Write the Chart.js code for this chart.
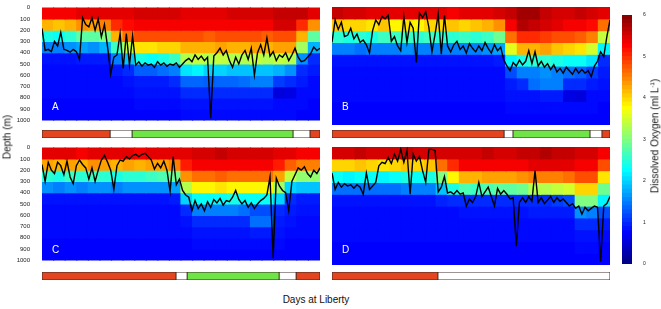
<!DOCTYPE html>
<html>
<head>
<meta charset="utf-8">
<script src="https://cdn.jsdelivr.net/npm/chart.js@4.4.1/dist/chart.umd.min.js"></script>
<style>
body{margin:0;background:#fff;width:661px;height:309px;position:relative;overflow:hidden;font-family:"Liberation Sans",Arial,sans-serif}
canvas{position:absolute}
.tag{position:absolute;color:#fff;font-size:10px}
.ttl{position:absolute;font-size:10px;color:#111;white-space:nowrap;transform:translate(-50%,-50%)}
.rot{transform:translate(-50%,-50%) rotate(-90deg)}
</style>
</head>
<body>
<canvas id="panelA" width="322" height="128" style="left:0;top:0"></canvas>
<canvas id="panelB" width="280" height="128" style="left:332px;top:0"></canvas>
<canvas id="panelC" width="322" height="128" style="left:0;top:140px"></canvas>
<canvas id="panelD" width="280" height="128" style="left:332px;top:140px"></canvas>
<canvas id="stripA" width="280" height="9" style="left:41px;top:129px"></canvas>
<canvas id="stripB" width="280" height="9" style="left:331px;top:129px"></canvas>
<canvas id="stripC" width="280" height="9" style="left:41px;top:271px"></canvas>
<canvas id="stripD" width="280" height="9" style="left:331px;top:271px"></canvas>
<canvas id="cbar" width="30" height="265" style="left:622px;top:5px"></canvas>
<div class="tag" style="left:52px;top:101px">A</div>
<div class="tag" style="left:342px;top:101px">B</div>
<div class="tag" style="left:52px;top:244px">C</div>
<div class="tag" style="left:342px;top:244px">D</div>
<div class="ttl rot" style="left:7px;top:137px">Depth (m)</div>
<div class="ttl rot" style="left:655px;top:136px">Dissolved Oxygen (ml L<sup style="font-size:6px">-1</sup>)</div>
<div class="ttl" style="left:316px;top:299px">Days at Liberty</div>
<script>
// depth bins (m) for the oxygen grid
const depthBins = [0, 100, 200, 300, 400, 500, 600, 700, 800, 900, 1000];

// oxygen (ml/L) per time column, each column top -> bottom
const oxyA = [
  [5.3,4.2,2.4,1.5,0.85,0.8,0.8,0.8,0.75,0.75],
  [5.3,4.1,2.3,1.5,0.85,0.8,0.8,0.8,0.75,0.75],
  [5.3,4.2,2.5,1.6,0.85,0.8,0.8,0.8,0.75,0.75],
  [5.4,4.4,2.8,1.7,0.9,0.8,0.8,0.8,0.75,0.75],
  [5.4,4.3,2.8,1.6,0.9,0.8,0.8,0.8,0.75,0.75],
  [5.4,4.5,3.0,1.8,0.9,0.8,0.8,0.8,0.75,0.75],
  [5.4,5.0,4.2,2.6,1.5,0.9,0.8,0.8,0.75,0.75],
  [5.4,5.2,4.6,3.4,1.9,1.0,0.85,0.8,0.75,0.75],
  [5.5,5.3,4.8,3.9,2.4,1.3,0.9,0.85,0.8,0.75],
  [5.5,5.3,4.8,3.9,2.3,1.3,0.9,0.85,0.8,0.75],
  [5.5,5.3,4.8,4.0,2.4,1.4,0.9,0.85,0.8,0.75],
  [5.5,5.3,4.8,4.0,2.6,1.5,1.0,0.85,0.8,0.75],
  [5.4,5.3,4.8,4.2,3.3,2.1,1.35,1.0,0.85,0.8],
  [5.4,5.3,4.8,4.2,3.4,2.2,1.35,1.0,0.85,0.8],
  [5.4,5.3,4.7,4.2,3.3,2.0,1.3,1.0,0.85,0.8],
  [5.4,5.3,4.8,4.3,3.4,2.0,1.35,1.0,0.85,0.8],
  [5.5,5.3,4.8,4.2,3.3,1.9,1.35,1.0,0.85,0.8],
  [5.5,5.3,4.8,4.2,3.3,1.9,1.4,1.0,0.85,0.8],
  [5.5,5.3,4.8,4.3,3.4,1.9,1.5,1.0,0.85,0.8],
  [5.5,5.3,4.7,4.2,3.3,1.9,1.5,1.0,0.85,0.8],
  [5.6,5.5,4.8,4.3,3.4,1.8,1.1,0.55,0.8,0.8],
  [5.6,5.5,4.8,4.3,3.3,1.6,1.0,0.6,0.8,0.8],
  [5.6,5.0,4.2,3.2,1.6,1.0,0.9,0.8,0.8,0.75],
  [5.4,4.4,2.8,1.8,1.0,0.9,0.8,0.8,0.75,0.75]
];
const oxyB = [
  [5.6,4.1,2.5,1.5,0.85,0.8,0.8,0.8,0.75,0.75],
  [5.5,4.0,2.4,1.5,0.85,0.8,0.8,0.8,0.75,0.75],
  [5.5,4.0,2.5,1.4,0.85,0.8,0.8,0.8,0.75,0.75],
  [5.4,3.9,2.4,1.5,0.85,0.8,0.8,0.8,0.75,0.75],
  [5.4,4.1,2.6,1.5,0.85,0.8,0.8,0.8,0.75,0.75],
  [5.4,3.8,2.6,1.5,0.85,0.8,0.8,0.8,0.75,0.75],
  [5.4,3.9,2.6,1.6,0.85,0.8,0.8,0.8,0.75,0.75],
  [5.4,3.8,2.5,1.5,0.85,0.8,0.8,0.8,0.75,0.75],
  [5.4,4.0,2.6,1.5,0.85,0.8,0.8,0.8,0.75,0.75],
  [5.4,4.0,2.5,1.5,0.85,0.8,0.8,0.8,0.75,0.75],
  [5.3,4.1,2.5,1.5,0.85,0.8,0.8,0.8,0.75,0.75],
  [5.4,4.0,2.6,1.5,0.85,0.8,0.8,0.8,0.75,0.75],
  [5.4,4.1,2.5,1.5,0.85,0.8,0.8,0.8,0.75,0.75],
  [5.4,4.2,2.6,1.6,0.85,0.8,0.8,0.8,0.75,0.75],
  [5.5,4.4,2.9,1.7,0.9,0.8,0.8,0.8,0.75,0.75],
  [5.6,5.3,4.6,3.6,2.2,1.2,0.9,0.85,0.8,0.75],
  [5.8,5.7,5.0,4.2,2.4,1.5,1.0,0.85,0.8,0.75],
  [5.8,5.6,5.0,4.2,2.5,1.5,1.4,0.85,0.8,0.75],
  [5.6,5.5,4.9,4.3,2.5,1.6,1.5,0.9,0.8,0.75],
  [5.5,5.4,4.8,4.1,2.4,1.5,1.5,0.9,0.8,0.75],
  [5.5,5.3,4.8,4.0,2.3,1.4,1.0,0.6,0.8,0.75],
  [5.6,5.3,4.7,3.9,2.3,1.3,1.0,0.55,0.8,0.75],
  [5.5,5.2,4.5,3.5,2.1,1.1,0.9,0.8,0.8,0.75],
  [5.4,4.6,3.4,2.2,1.0,0.9,0.85,0.8,0.75,0.75]
];
const oxyC = [
  [5.4,4.3,2.5,1.6,0.85,0.8,0.8,0.8,0.75,0.75],
  [5.4,4.2,2.4,1.5,0.85,0.8,0.8,0.8,0.75,0.75],
  [5.4,4.3,2.6,1.6,0.85,0.8,0.8,0.8,0.75,0.75],
  [5.3,4.2,2.5,1.5,0.85,0.8,0.8,0.8,0.75,0.75],
  [5.4,4.4,2.6,1.6,0.85,0.8,0.8,0.8,0.75,0.75],
  [5.4,4.3,2.5,1.6,0.85,0.8,0.8,0.8,0.75,0.75],
  [5.4,4.2,2.4,1.5,0.85,0.8,0.8,0.8,0.75,0.75],
  [5.4,4.3,2.5,1.6,0.85,0.8,0.8,0.8,0.75,0.75],
  [5.3,4.2,2.5,1.6,0.85,0.8,0.8,0.8,0.75,0.75],
  [5.4,4.3,2.6,1.6,0.85,0.8,0.8,0.8,0.75,0.75],
  [5.4,4.3,2.7,1.6,0.85,0.8,0.8,0.8,0.75,0.75],
  [5.4,4.5,2.9,1.7,0.9,0.8,0.8,0.8,0.75,0.75],
  [5.4,5.1,4.4,3.3,2.0,1.0,0.85,0.8,0.75,0.75],
  [5.5,5.3,4.6,3.8,2.3,1.5,1.0,0.85,0.8,0.75],
  [5.5,5.3,4.6,3.8,2.3,1.5,1.0,0.85,0.8,0.75],
  [5.6,5.3,4.7,3.9,2.3,1.5,1.0,0.85,0.8,0.75],
  [5.5,5.3,4.6,3.8,2.4,1.5,1.0,0.85,0.8,0.75],
  [5.5,5.3,4.6,3.8,2.3,1.4,1.0,0.85,0.8,0.75],
  [5.5,5.3,4.6,3.8,2.3,1.2,1.4,0.9,0.8,0.75],
  [5.5,5.3,4.6,3.8,2.3,1.2,1.4,0.9,0.8,0.75],
  [5.4,5.1,4.3,3.2,2.0,1.0,0.9,0.85,0.8,0.75],
  [5.4,4.7,3.4,2.0,1.0,0.9,0.85,0.8,0.75,0.75],
  [5.3,4.5,3.1,1.9,0.9,0.85,0.8,0.8,0.75,0.75],
  [5.3,4.5,3.1,1.9,0.9,0.85,0.8,0.8,0.75,0.75]
];
const oxyD = [
  [5.5,4.0,2.3,1.4,0.85,0.8,0.8,0.8,0.75,0.75],
  [5.5,4.0,2.2,1.4,0.85,0.8,0.8,0.8,0.75,0.75],
  [5.6,4.1,2.3,1.4,0.85,0.8,0.8,0.8,0.75,0.75],
  [5.5,4.0,2.3,1.4,0.85,0.8,0.8,0.8,0.75,0.75],
  [5.5,3.9,2.2,1.4,0.85,0.8,0.8,0.8,0.75,0.75],
  [5.5,4.0,2.3,1.4,0.85,0.8,0.8,0.8,0.75,0.75],
  [5.6,4.1,2.4,1.5,0.85,0.8,0.8,0.8,0.75,0.75],
  [5.5,4.0,2.3,1.5,0.85,0.8,0.8,0.8,0.75,0.75],
  [5.5,4.1,2.4,1.5,0.85,0.8,0.8,0.8,0.75,0.75],
  [5.5,4.6,3.0,1.9,0.95,0.8,0.8,0.8,0.75,0.75],
  [5.5,5.0,3.8,2.4,1.0,0.8,0.8,0.8,0.75,0.75],
  [5.5,5.3,4.2,2.7,1.0,0.85,0.8,0.8,0.75,0.75],
  [5.5,5.3,4.2,2.6,1.0,0.85,0.8,0.8,0.75,0.75],
  [5.6,5.3,4.3,2.7,1.0,0.85,0.8,0.8,0.75,0.75],
  [5.5,5.3,4.3,2.8,1.0,0.85,0.8,0.8,0.75,0.75],
  [5.5,5.3,4.3,2.8,1.0,0.85,0.8,0.8,0.75,0.75],
  [5.6,5.3,4.4,2.9,1.0,0.85,0.8,0.8,0.75,0.75],
  [5.6,5.4,4.5,3.3,1.0,0.9,0.8,0.8,0.75,0.75],
  [5.7,5.4,4.5,3.3,1.0,0.9,0.8,0.8,0.75,0.75],
  [5.6,5.4,4.5,3.4,1.1,0.9,0.8,0.8,0.75,0.75],
  [5.6,5.4,4.6,3.5,1.2,0.9,0.8,0.8,0.75,0.75],
  [5.5,5.3,4.8,4.0,3.0,1.6,1.0,0.85,0.8,0.75],
  [5.5,5.3,4.8,4.0,3.0,1.5,1.0,0.85,0.8,0.75],
  [5.3,4.8,3.9,2.9,2.2,1.2,0.9,0.8,0.75,0.75]
];

// fish depth (m) over the track
const depthA = [185,380,370,390,300,340,220,370,380,395,370,390,460,90,150,170,90,200,100,260,
  150,350,590,440,420,230,540,230,510,250,510,480,520,490,510,500,530,480,510,490,
  520,500,510,490,530,500,470,450,480,420,460,430,470,440,980,430,400,360,420,380,
  470,530,440,500,420,380,460,360,600,400,330,420,270,430,390,470,420,440,400,470,
  420,360,440,480,470,440,410,350,380,360];
const depthB = [300,110,190,130,250,240,180,270,230,300,280,320,390,200,110,150,80,100,70,290,
  250,330,370,80,300,130,180,470,50,90,40,170,380,230,60,400,70,330,380,320,
  290,360,330,390,310,350,380,330,370,300,350,390,320,370,340,450,500,540,470,500,
  450,490,460,370,480,380,500,460,510,480,530,490,550,520,560,510,540,570,520,560,
  530,560,540,590,500,460,380,420,250,110];
const depthC = [150,300,130,200,230,130,160,240,120,260,320,160,110,150,180,280,180,300,200,110,
  70,130,200,370,160,110,120,80,100,70,60,80,60,50,80,110,190,140,180,120,
  200,390,80,330,280,380,420,440,560,470,540,500,560,480,530,460,490,450,510,470,
  480,440,380,460,500,470,530,490,540,500,470,450,420,260,980,270,340,380,400,560,
  300,240,180,200,170,230,260,200,230,180];
const depthD = [220,360,300,340,310,330,320,350,320,340,400,220,360,330,300,160,130,140,90,140,
  60,120,20,130,30,400,60,120,80,200,300,20,20,30,380,340,250,390,380,400,
  370,400,390,500,440,470,420,300,420,380,340,420,500,350,400,370,400,440,430,840,
  470,430,470,420,460,200,470,430,480,450,420,470,430,460,440,470,500,480,520,500,
  570,510,540,520,500,510,970,500,480,420];

// behaviour strips: share of the track (%) and kind of each segment
const stripA = [24.5, 7.9, 57.9, 6.1, 3.6];
const kindsA = ['red', 'blank', 'green', 'blank', 'red'];
const stripB = [61.9, 3.2, 27.7, 4.3, 2.9];
const kindsB = ['red', 'blank', 'green', 'blank', 'red'];
const stripC = [48.2, 4.0, 33.1, 6.1, 8.6];
const kindsC = ['red', 'blank', 'green', 'blank', 'red'];
const stripD = [38.1, 61.9];
const kindsD = ['red', 'blank'];

// colour bar ticks
const cbarTicks = [0, 1, 2, 3, 4, 5, 6];

const FONT = 'Liberation Sans';
const stripColors = { red: '#e4441f', green: '#6fe446', blank: '#ffffff' };

function jet(v) {
  const t = Math.min(1, Math.max(0, v / 6));
  const c = x => Math.round(255 * Math.min(1, Math.max(0, x)));
  return `rgb(${c(1.5 - Math.abs(4 * t - 3))},${c(1.5 - Math.abs(4 * t - 2))},${c(1.5 - Math.abs(4 * t - 1))})`;
}

function heatPanel(id, oxy, track, showTicks) {
  const datasets = [{
    type: 'line',
    data: track.map((d, i) => ({ x: i, y: d })),
    xAxisID: 'xl', yAxisID: 'yl',
    borderColor: '#000', borderWidth: 1.4,
    pointRadius: 0, tension: 0, order: 0
  }];
  for (let r = 0; r < depthBins.length - 1; r++) {
    datasets.push({
      type: 'bar',
      data: oxy.map(() => [depthBins[r], depthBins[r + 1]]),
      backgroundColor: oxy.map(col => jet(col[r])),
      borderWidth: 0, inflateAmount: 0.6, grouped: false,
      barPercentage: 1, categoryPercentage: 1, order: 1
    });
  }
  new Chart(document.getElementById(id), {
    type: 'bar',
    data: { labels: oxy.map((_, i) => i), datasets },
    options: {
      responsive: false, animation: false,
      datasets: { bar: { barPercentage: 1, categoryPercentage: 1 } },
      layout: { padding: { top: 7, bottom: 3, left: 0, right: 2 } },
      plugins: { legend: { display: false }, tooltip: { enabled: false } },
      scales: {
        x: { type: 'category', stacked: true, display: false },
        y: {
          type: 'linear', reverse: true, min: 0, max: 1000, display: showTicks,
          grid: { display: false }, border: { display: false },
          ticks: { stepSize: 100, autoSkip: false, padding: 4, color: '#222',
            font: { size: 6, family: FONT }, callback: v => String(v) },
          afterFit: s => { s.width = showTicks ? 42 : 0; }
        },
        xl: { type: 'linear', offset: false, grid: { offset: false }, min: 0, max: track.length - 1, display: false },
        yl: { type: 'linear', offset: false, reverse: true, min: 0, max: 1000, display: false }
      }
    }
  });
}

function strip(id, lengths, kinds) {
  let start = 0;
  const datasets = lengths.map((len, i) => {
    const d = {
      data: [[start, start + len]],
      backgroundColor: stripColors[kinds[i]],
      borderColor: '#3b2a22', borderWidth: 0.8, borderSkipped: false,
      barPercentage: 1, categoryPercentage: 1
    };
    start += len;
    return d;
  });
  new Chart(document.getElementById(id), {
    type: 'bar',
    data: { labels: [''], datasets },
    options: {
      indexAxis: 'y', responsive: false, animation: false,
      layout: { padding: { left: 1, right: 1, top: 1, bottom: 0 } },
      plugins: { legend: { display: false }, tooltip: { enabled: false } },
      scales: {
        x: { type: 'linear', min: 0, max: 100, display: false },
        y: { stacked: true, display: false }
      }
    }
  });
}

heatPanel('panelA', oxyA, depthA, true);
heatPanel('panelB', oxyB, depthB, false);
heatPanel('panelC', oxyC, depthC, true);
heatPanel('panelD', oxyD, depthD, false);
strip('stripA', stripA, kindsA);
strip('stripB', stripB, kindsB);
strip('stripC', stripC, kindsC);
strip('stripD', stripD, kindsD);

// colour bar: thin bands from 0 to 6
const bands = [];
for (let k = 0; k < 60; k++) bands.push(k / 10);
new Chart(document.getElementById('cbar'), {
  type: 'bar',
  data: {
    labels: [''],
    datasets: bands.map(v => ({
      data: [[v, v + 0.1]], backgroundColor: jet(v + 0.05),
      borderWidth: 0, inflateAmount: 0.5, barPercentage: 1, categoryPercentage: 1
    }))
  },
  options: {
    responsive: false, animation: false,
    layout: { padding: { top: 10, bottom: 4, left: 0, right: 0 } },
    plugins: { legend: { display: false }, tooltip: { enabled: false } },
    scales: {
      x: { stacked: true, display: false },
      y: {
        position: 'right', min: 0, max: 6,
        afterBuildTicks: s => { s.ticks = cbarTicks.map(v => ({ value: v })); },
        grid: { display: false }, border: { display: false },
        ticks: { padding: 3, color: '#222', font: { size: 5, family: FONT } },
        afterFit: s => { s.width = 20; }
      }
    }
  }
});
</script>
</body>
</html>
